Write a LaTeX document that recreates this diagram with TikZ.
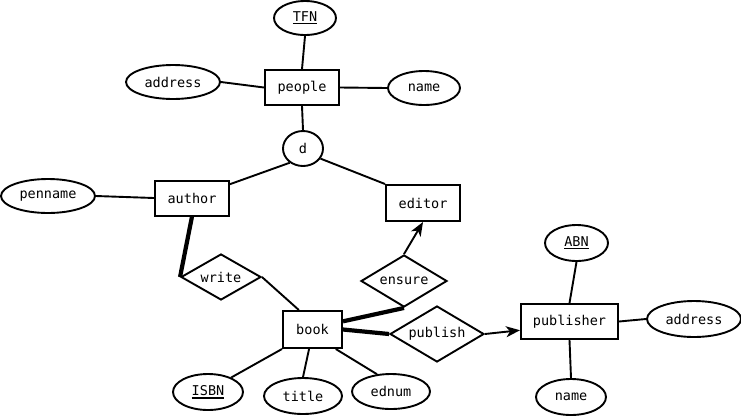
\documentclass[tikz,border=0pt]{standalone}
\usepackage{fontspec}
\setmonofont{DejaVu Sans Mono}
\usetikzlibrary{shapes.geometric,arrows.meta}
% underlined key attribute
\newcommand\keyattr[1]{\setbox0\hbox{#1}\rlap{\rule[-3pt]{\wd0}{1.8pt}}\box0}
\begin{document}
\begin{tikzpicture}[x=1pt,y=-1pt,
  every node/.style={font=\ttfamily\fontsize{13.5}{15}\selectfont, inner sep=0pt},
  entity/.style={draw, line width=2pt, rectangle, minimum width=#1, minimum height=35pt},
  attr/.style={draw, line width=1.9pt, ellipse},
  rel/.style={draw, line width=1.9pt, diamond, shape aspect=1.7},
  link/.style={line width=1.9pt},
  total/.style={line width=4.2pt},
  arr/.style={line width=1.9pt, -{Stealth[length=14pt,width=11pt,inset=4pt]}}]
\useasboundingbox (0,0) rectangle (741,416);

% entities
\node[entity=74pt] (people) at (302,87.5) {people};
\node[entity=74pt] (author) at (192,198) {author};
\node[entity=74pt, minimum height=36pt] (editor) at (423,203) {editor};
\node[entity=59pt, minimum height=37pt] (book) at (312.5,329.5) {book};
\node[entity=97pt] (publisher) at (569.5,321.5) {publisher};

% specialisation circle
\node[attr, minimum width=40pt, minimum height=35pt] (d) at (303,148.5) {d};

% attributes
\node[attr, minimum width=62pt, minimum height=34pt] (tfn) at (305,18) {\keyattr{TFN}};
\node[attr, minimum width=94pt, minimum height=34pt] (paddr) at (173,82) {address};
\node[attr, minimum width=72pt, minimum height=34pt] (pname) at (424,88) {name};
\node[attr, minimum width=94pt, minimum height=34pt] (penname) at (48,196) {penname};
\node[attr, minimum width=70pt, minimum height=36pt] (isbn) at (208,392) {\keyattr{ISBN}};
\node[attr, minimum width=78pt, minimum height=36pt] (title) at (303,396) {title};
\node[attr, minimum width=78pt, minimum height=35pt] (ednum) at (391,391.5) {ednum};
\node[attr, minimum width=63pt, minimum height=36pt] (abn) at (576.5,243) {\keyattr{ABN}};
\node[attr, minimum width=94pt, minimum height=36pt] (baddr) at (694,319) {address};
\node[attr, minimum width=70pt, minimum height=36pt] (bname) at (571,397) {name};

% relationships
\node[rel, minimum width=80pt, minimum height=46pt] (write) at (221,277) {write};
\node[rel, minimum width=86pt, minimum height=52pt] (ensure) at (404,281) {ensure};
\node[rel, minimum width=94pt, minimum height=56pt] (publish) at (437,334) {publish};

% people and its attributes
\draw[link] (tfn.south) -- (people.north);
\draw[link] (paddr.east) -- (people.west);
\draw[link] (people.east) -- (pname.west);
\draw[link] (people.south) -- (d.north);
\draw[link] (d.227) -- (author.20);
\draw[link] (d.-30) -- (editor.north west);
\draw[link] (penname.east) -- (author.west);

% relationships around book
\draw[total] (author.south) -- (write.west);
\draw[link] (write.east) -- (book.125);
\draw[total] (book.15) -- (ensure.south);
\draw[arr] (ensure.north) -- (editor.south);
\draw[total] (book.east) -- (publish.west);
\draw[arr] (publish.east) -- (publisher.190);

% book attributes
\draw[link] (book.south west) -- (isbn.32);
\draw[link] (book.-100) -- (title.north);
\draw[link] (book.-40) -- (ednum.129);

% publisher attributes
\draw[link] (publisher.north) -- (abn.south);
\draw[link] (publisher.east) -- (baddr.west);
\draw[link] (publisher.south) -- (bname.north);
\end{tikzpicture}
\end{document}
